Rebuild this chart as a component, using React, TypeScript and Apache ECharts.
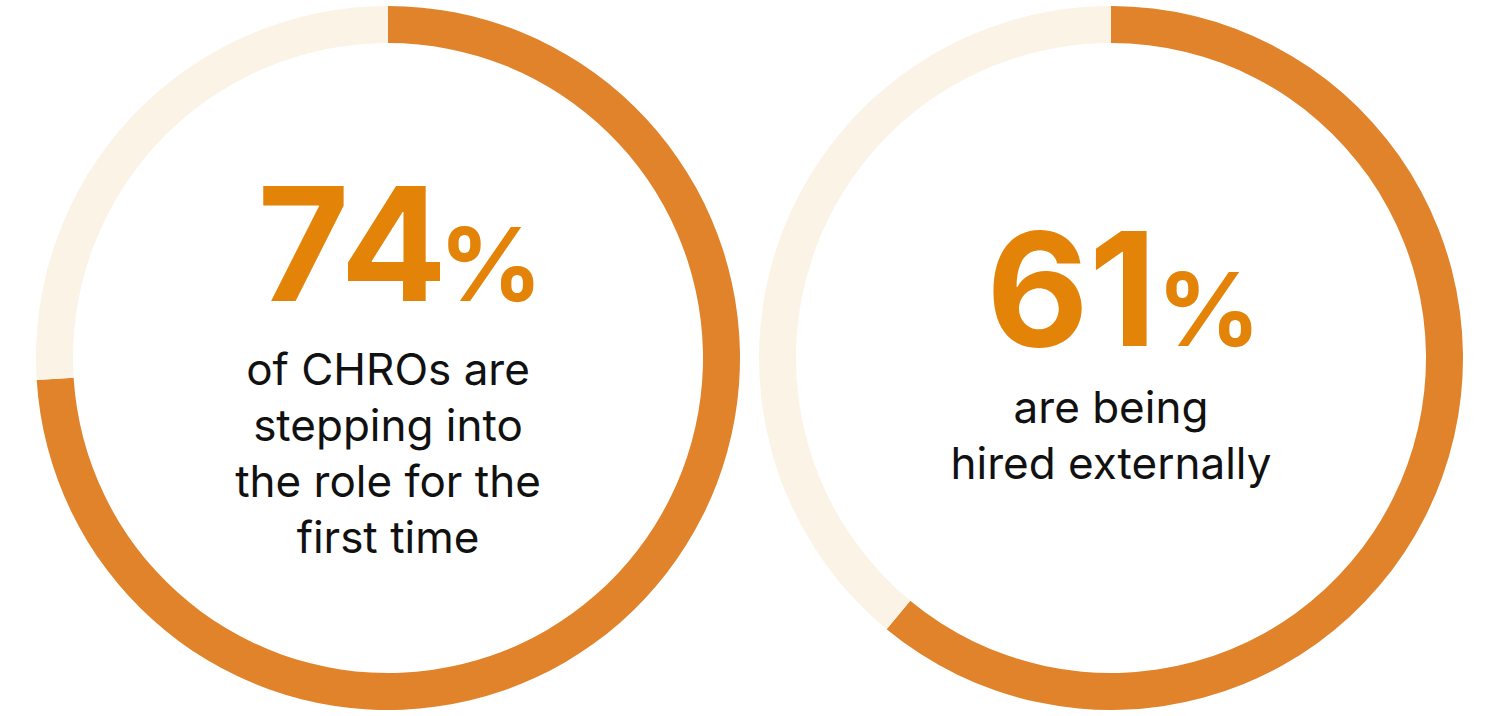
import React, { useEffect, useRef } from "react";
import * as echarts from "echarts";

const shares = [74, 61];
const bigLabels = ["74", "61"];
const captions = [
  "of CHROs are\nstepping into\nthe role for the\nfirst time",
  "are being\nhired externally",
];

// layout constants
const centersX = [388, 1111];
const numRightX = [447, 1157];
const pctLeftX = [439, 1157];
const numMidY = [243, 288.5];
const pctMidY = [264, 309];
const captionTops = [341, 379];

const ORANGE = "#E0832A";
const LIGHT = "#FBF3E6";
const NUM = "#E38308";

export default function App() {
  const ref = useRef<HTMLDivElement>(null);
  useEffect(() => {
    document.body.style.margin = "0";
    const chart = echarts.init(ref.current!, null, { renderer: "svg" });
    const series = shares.map((v, i) => ({
      type: "pie",
      silent: true,
      center: [centersX[i], 358],
      radius: [315, 352],
      startAngle: 90,
      clockwise: true,
      label: { show: false },
      labelLine: { show: false },
      emphasis: { disabled: true },
      data: [
        { value: v, itemStyle: { color: ORANGE } },
        { value: 100 - v, itemStyle: { color: LIGHT } },
      ],
    }));
    const graphic: any[] = [];
    shares.forEach((_, i) => {
      graphic.push({
        type: "text",
        x: numRightX[i],
        y: numMidY[i],
        style: {
          text: bigLabels[i],
          align: "right",
          verticalAlign: "middle",
          fontFamily: "Inter",
          fontWeight: 700,
          fontSize: 158,
          fill: NUM,
        },
      });
      graphic.push({
        type: "text",
        x: pctLeftX[i],
        y: pctMidY[i],
        style: {
          text: "%",
          align: "left",
          verticalAlign: "middle",
          fontFamily: "Inter",
          fontWeight: 700,
          fontSize: 102,
          fill: NUM,
        },
      });
      graphic.push({
        type: "text",
        x: centersX[i],
        y: captionTops[i],
        style: {
          text: captions[i],
          align: "center",
          verticalAlign: "top",
          fontFamily: "Inter",
          fontSize: 44,
          lineHeight: 56,
          fill: "#111111",
        },
      });
    });
    chart.setOption({
      animation: false,
      backgroundColor: "#ffffff",
      series,
      graphic,
    });
    return () => chart.dispose();
  }, []);
  return <div ref={ref} style={{ width: 1500, height: 716 }} />;
}
